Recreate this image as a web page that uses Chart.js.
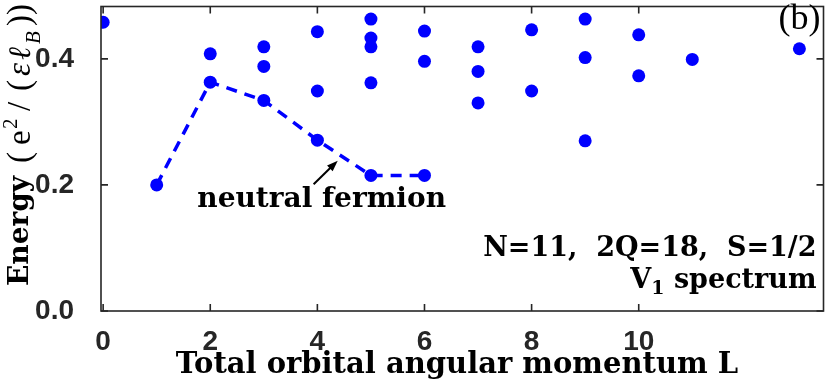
<!DOCTYPE html>
<html>
<head>
<meta charset="utf-8">
<script src="https://cdn.jsdelivr.net/npm/chart.js@4"></script>
<style>
  body { margin: 0; background: #fff; }
  canvas { display: block; }
</style>
</head>
<body>
<canvas id="chart" width="830" height="387"></canvas>
<script>
// all eigen-energies, one entry per state
const momentumL = [0, 1, 2, 2, 3, 3, 3, 4, 4, 4, 5, 5, 5, 5, 5, 6, 6, 6, 7, 7, 7, 8, 8, 9, 9, 9, 10, 10, 11, 13];
const energyE = [0.458, 0.200, 0.408, 0.363, 0.419, 0.388, 0.334, 0.443, 0.349, 0.271,
                 0.463, 0.433, 0.419, 0.362, 0.215, 0.444, 0.396, 0.215, 0.419, 0.380,
                 0.330, 0.446, 0.349, 0.463, 0.402, 0.270, 0.438, 0.373, 0.399, 0.416];

// neutral fermion branch (dashed)
const fermionL = [1, 2, 3, 4, 5, 6];
const fermionE = [0.200, 0.363, 0.334, 0.271, 0.215, 0.215];

const xTicks = [0, 2, 4, 6, 8, 10];
const yTicks = [0.0, 0.2, 0.4];

const axisColor = '#262626';
const blue = '#0000ff';

const frame = {
  id: 'frame',
  afterDraw(chart) {
    const ctx = chart.ctx;
    const a = chart.chartArea;
    const xs = chart.scales.x, ys = chart.scales.y;
    ctx.save();
    ctx.strokeStyle = axisColor;
    ctx.lineWidth = 1.6;
    ctx.strokeRect(a.left, a.top, a.right - a.left, a.bottom - a.top);
    // inward ticks on all four sides
    ctx.beginPath();
    xTicks.forEach(v => {
      const px = xs.getPixelForValue(v);
      ctx.moveTo(px, a.bottom); ctx.lineTo(px, a.bottom - 7);
      ctx.moveTo(px, a.top); ctx.lineTo(px, a.top + 7);
    });
    yTicks.forEach(v => {
      const py = ys.getPixelForValue(v);
      ctx.moveTo(a.left, py); ctx.lineTo(a.left + 7, py);
      ctx.moveTo(a.right, py); ctx.lineTo(a.right - 7, py);
    });
    ctx.stroke();

    // arrow to the neutral fermion branch
    const x0 = xs.getPixelForValue(3.93), y0 = ys.getPixelForValue(0.201);
    const x1 = xs.getPixelForValue(4.38), y1 = ys.getPixelForValue(0.2385);
    const ang = Math.atan2(y1 - y0, x1 - x0);
    ctx.strokeStyle = '#000';
    ctx.fillStyle = '#000';
    ctx.lineWidth = 2;
    ctx.beginPath();
    ctx.moveTo(x0, y0);
    ctx.lineTo(x1 - 8 * Math.cos(ang), y1 - 8 * Math.sin(ang));
    ctx.stroke();
    ctx.beginPath();
    ctx.moveTo(x1, y1);
    ctx.lineTo(x1 - 11 * Math.cos(ang) + 4 * Math.sin(ang), y1 - 11 * Math.sin(ang) - 4 * Math.cos(ang));
    ctx.lineTo(x1 - 11 * Math.cos(ang) - 4 * Math.sin(ang), y1 - 11 * Math.sin(ang) + 4 * Math.cos(ang));
    ctx.closePath();
    ctx.fill();

    // texts
    ctx.fillStyle = '#000';
    ctx.textBaseline = 'alphabetic';
    ctx.font = 'bold 28px "DejaVu Serif"';
    ctx.textAlign = 'center';
    ctx.fillText('neutral fermion', xs.getPixelForValue(4.08), ys.getPixelForValue(0.165));

    ctx.font = '36px "Liberation Serif"';
    ctx.textAlign = 'right';
    ctx.fillText('(b)', a.right - 3, 29);

    ctx.font = 'bold 27px "DejaVu Serif"';
    ctx.fillText('N=11,  2Q=18,  S=1/2', a.right - 7, 256);

    // V_1 spectrum, right aligned
    ctx.textAlign = 'left';
    const bigF = 'bold 27px "DejaVu Serif"', smallF = 'bold 19px "DejaVu Serif"';
    ctx.font = bigF; const wV = ctx.measureText('V').width;
    const wS = ctx.measureText(' spectrum').width;
    ctx.font = smallF; const w1 = ctx.measureText('1').width;
    let sx = a.right - 7 - (wV + w1 + wS);
    ctx.font = bigF; ctx.fillText('V', sx, 288); sx += wV;
    ctx.font = smallF; ctx.fillText('1', sx, 294); sx += w1;
    ctx.font = bigF; ctx.fillText(' spectrum', sx, 288);

    // x title
    ctx.font = 'bold 29px "DejaVu Serif"';
    ctx.textAlign = 'center';
    ctx.fillText('Total orbital angular momentum L', 457, 373);

    // y title, rotated, laid out glyph by glyph
    ctx.translate(28, 286);
    ctx.rotate(-Math.PI / 2);
    ctx.textAlign = 'left';
    const parts = [
      ['Energy', 0, 0, 'bold 28px "DejaVu Serif"'],
      ['(', 123, 2, '33px "Liberation Serif"'],
      ['e', 141, 2, '33px "Liberation Serif"'],
      ['2', 157, -11, '21px "Liberation Serif"'],
      ['/', 175, 2, '33px "Liberation Serif"'],
      ['(', 195, 2, '33px "Liberation Serif"'],
      ['ε', 210, 2, 'italic 33px "Liberation Serif"'],
      ['ℓ', 226, 2, 'italic 31px "DejaVu Serif"'],
      ['B', 242, 12, 'italic 21px "Liberation Serif"'],
      ['))', 260, 2, '33px "Liberation Serif"']
    ];
    parts.forEach(p => {
      ctx.font = p[3];
      ctx.fillText(p[0], p[1], p[2]);
    });
    ctx.restore();
  }
};

// drop the half-label padding Chart.js keeps at the axis ends
const noEndPadding = s => {
  s.paddingTop = 0; s.paddingBottom = 0;
  s.paddingLeft = 0; s.paddingRight = 0;
};

new Chart(document.getElementById('chart').getContext('2d'), {
  type: 'scatter',
  data: {
    datasets: [
      {
        data: momentumL.map((l, i) => ({x: l, y: energyE[i]})),
        backgroundColor: blue,
        borderColor: blue,
        pointRadius: 6.5,
        borderWidth: 0,
        order: 0
      },
      {
        data: fermionL.map((l, i) => ({x: l, y: fermionE[i]})),
        showLine: true,
        borderColor: blue,
        borderWidth: 3.5,
        borderDash: [11, 8],
        pointRadius: 0,
        order: 1
      }
    ]
  },
  options: {
    responsive: false,
    animation: false,
    layout: {padding: {top: 1, right: 2, left: 0, bottom: 0}},
    plugins: {legend: {display: false}, tooltip: {enabled: false}},
    scales: {
      x: {
        type: 'linear', min: -0.04, max: 13.45,
        grid: {display: false}, border: {display: false},
        afterBuildTicks: s => { s.ticks = xTicks.map(v => ({value: v})); },
        afterFit: s => { s.height = 76; noEndPadding(s); },
        ticks: {
          color: axisColor, padding: 6,
          font: {family: '"Liberation Sans"', weight: 'bold', size: 28},
          callback: v => String(v)
        }
      },
      y: {
        min: 0, max: 0.483,
        grid: {display: false}, border: {display: false},
        afterBuildTicks: s => { s.ticks = yTicks.map(v => ({value: v})); },
        afterFit: s => { s.width = 101; noEndPadding(s); },
        ticks: {
          color: axisColor, padding: 19,
          font: {family: '"Liberation Sans"', weight: 'bold', size: 28},
          callback: v => v.toFixed(1)
        }
      }
    }
  },
  plugins: [frame]
});
</script>
</body>
</html>
